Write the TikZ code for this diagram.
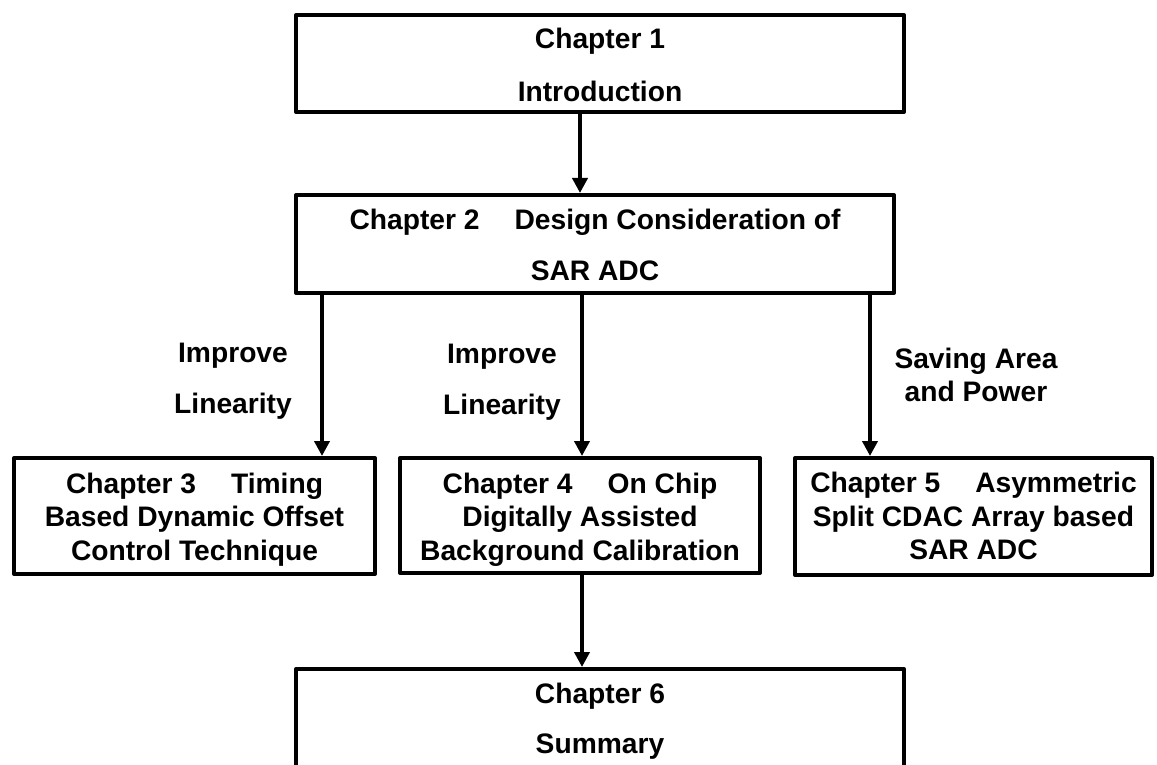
\documentclass[tikz,border=0pt]{standalone}
\usepackage{fontspec}
\setmainfont{Liberation Sans}
\usetikzlibrary{arrows.meta}

% Centred lines of text whose first baseline sits #1 above the node centre
\newcommand{\boxlines}[2]{\raisebox{#1}[0pt][0pt]{\begin{tabular}[t]{@{}c@{}}#2\end{tabular}}}
% Wide gap between the chapter number and its title
\newcommand{\chgap}{\hspace{35pt}}

\begin{document}
\begin{tikzpicture}[x=1pt,y=-1pt,
  every node/.style={font=\fontsize{28.2}{33.5}\selectfont\bfseries, inner sep=0pt},
  chapbox/.style={draw, line width=4pt, line join=round},
  conn/.style={line width=4pt, -{Triangle[length=15pt,width=15pt]}},
]
\useasboundingbox (0,0) rectangle (1157,765);

% Chapter boxes
\node[chapbox, minimum width=608pt, minimum height=97pt] (b1) at (600,63.5)
  {\boxlines{14.5pt}{Chapter 1\\[19.5pt]Introduction}};
\node[chapbox, minimum width=598pt, minimum height=98pt] (b2) at (595,244)
  {\boxlines{15pt}{Chapter 2\chgap Design Consideration of\\[17.5pt]SAR ADC}};
\node[chapbox, minimum width=361pt, minimum height=116pt] (b3) at (194.5,516)
  {\boxlines{23pt}{Chapter 3\chgap Timing\\Based Dynamic Offset\\Control Technique}};
\node[chapbox, minimum width=360pt, minimum height=115pt] (b4) at (580,515.5)
  {\boxlines{22.5pt}{Chapter 4\chgap On Chip\\Digitally Assisted\\Background Calibration}};
\node[chapbox, minimum width=357pt, minimum height=117pt] (b5) at (973.5,516.5)
  {\boxlines{24pt}{Chapter 5\chgap Asymmetric\\Split CDAC Array based\\SAR ADC}};
\node[chapbox, minimum width=608pt, minimum height=101pt] (b6) at (600,719.5)
  {\boxlines{16.5pt}{Chapter 6\\[16.5pt]Summary}};

% Arrow labels
\node (l3a) at (233,362) {\boxlines{0pt}{Improve\\[17.5pt]Linearity}};
\node (l4a) at (502,363) {\boxlines{0pt}{Improve\\[17.5pt]Linearity}};
\node (l5a) at (976,368) {\boxlines{0pt}{Saving Area\\and Power}};

% Connectors
\draw[conn] ([xshift=-20pt]b1.south) -- ([xshift=-20pt]b1.south |- b2.north);
\draw[conn] ([xshift=-273pt]b2.south) -- ([xshift=-273pt]b2.south |- b3.north);
\draw[conn] ([xshift=-13pt]b2.south) -- ([xshift=-13pt]b2.south |- b4.north);
\draw[conn] ([xshift=275pt]b2.south) -- ([xshift=275pt]b2.south |- b5.north);
\draw[conn] ([xshift=2pt]b4.south) -- ([xshift=2pt]b4.south |- b6.north);
\end{tikzpicture}
\end{document}
